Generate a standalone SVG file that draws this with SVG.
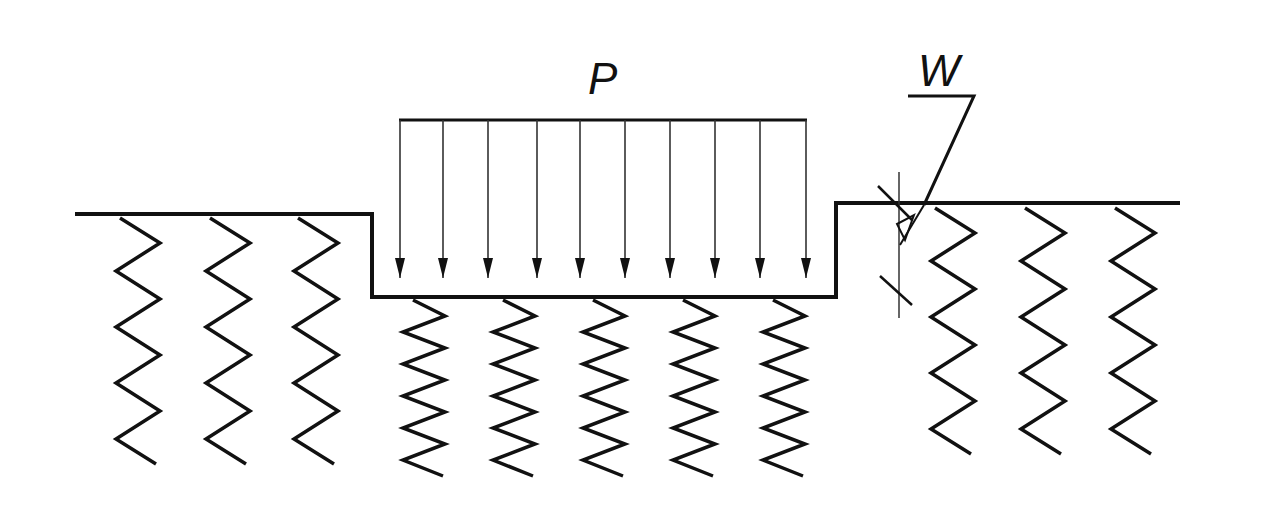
<svg xmlns="http://www.w3.org/2000/svg" xmlns:xlink="http://www.w3.org/1999/xlink" width="1282" height="521" viewBox="0 0 1282 521">
<style>
.g{fill:none;stroke:#111;stroke-width:4}
.s{fill:none;stroke:#111;stroke-width:3.5;stroke-linejoin:miter}
.a{stroke:#333;stroke-width:1.6}
.t{font-family:"Liberation Sans",sans-serif;font-style:italic;font-size:44px;fill:#111}
</style>
<defs>
<path id="sl" class="s" d="M-20,0 l40,25 l-44,28 l44,28 l-44,28 l44,28 l-44,28 l44,28 l-44,28 l40,25"/>
<path id="sm" class="s" d="M-12,0 l32,16 l-42,16 l42,16 l-42,16 l42,16 l-42,16 l42,16 l-42,16 l42,16 l-42,16 l40,16"/>
<marker id="ah" viewBox="0 0 20 10" refX="20" refY="5" markerWidth="20" markerHeight="10" markerUnits="userSpaceOnUse" orient="auto">
<path d="M0,0 L20,5 L0,10 Z" fill="#111"/>
</marker>
</defs>
<rect width="1282" height="521" fill="#fff"/>
<g id="ground"><path class="g" d="M75,214 H372 V297 H836 V203 H1180"/></g>
<g id="springs">
<use xlink:href="#sl" x="140" y="218"/><use xlink:href="#sl" x="230" y="218"/><use xlink:href="#sl" x="318" y="218"/>
<use xlink:href="#sm" x="425" y="300"/><use xlink:href="#sm" x="515" y="300"/><use xlink:href="#sm" x="605" y="300"/><use xlink:href="#sm" x="695" y="300"/><use xlink:href="#sm" x="785" y="300"/>
<use xlink:href="#sl" x="955" y="208"/><use xlink:href="#sl" x="1045" y="208"/><use xlink:href="#sl" x="1135" y="208"/>
</g>
<g id="load">
<line x1="399" y1="120" x2="807" y2="120" stroke="#111" stroke-width="3"/>
<g class="a" marker-end="url(#ah)">
<line x1="400" y1="120" x2="400" y2="278"/><line x1="443" y1="120" x2="443" y2="278"/><line x1="488" y1="120" x2="488" y2="278"/><line x1="537" y1="120" x2="537" y2="278"/><line x1="580" y1="120" x2="580" y2="278"/><line x1="625" y1="120" x2="625" y2="278"/><line x1="670" y1="120" x2="670" y2="278"/><line x1="715" y1="120" x2="715" y2="278"/><line x1="760" y1="120" x2="760" y2="278"/><line x1="806" y1="120" x2="806" y2="278"/>
</g>
<text class="t" x="588" y="94">P</text>
</g>
<g id="dim">
<line x1="899" y1="172" x2="899" y2="318" stroke="#333" stroke-width="1.5"/>
<line x1="878" y1="186" x2="912" y2="220" stroke="#111" stroke-width="2.5"/>
<line x1="880" y1="276" x2="912" y2="305" stroke="#111" stroke-width="2.5"/>
<path d="M908,96 H974 L924,205" fill="none" stroke="#111" stroke-width="3"/>
<line x1="924" y1="205" x2="900" y2="245" stroke="#111" stroke-width="2"/>
<path d="M914,215 L905,240 L897,224 Z" fill="none" stroke="#111" stroke-width="2"/>
<text class="t" x="918" y="86">W</text>
</g>
</svg>
